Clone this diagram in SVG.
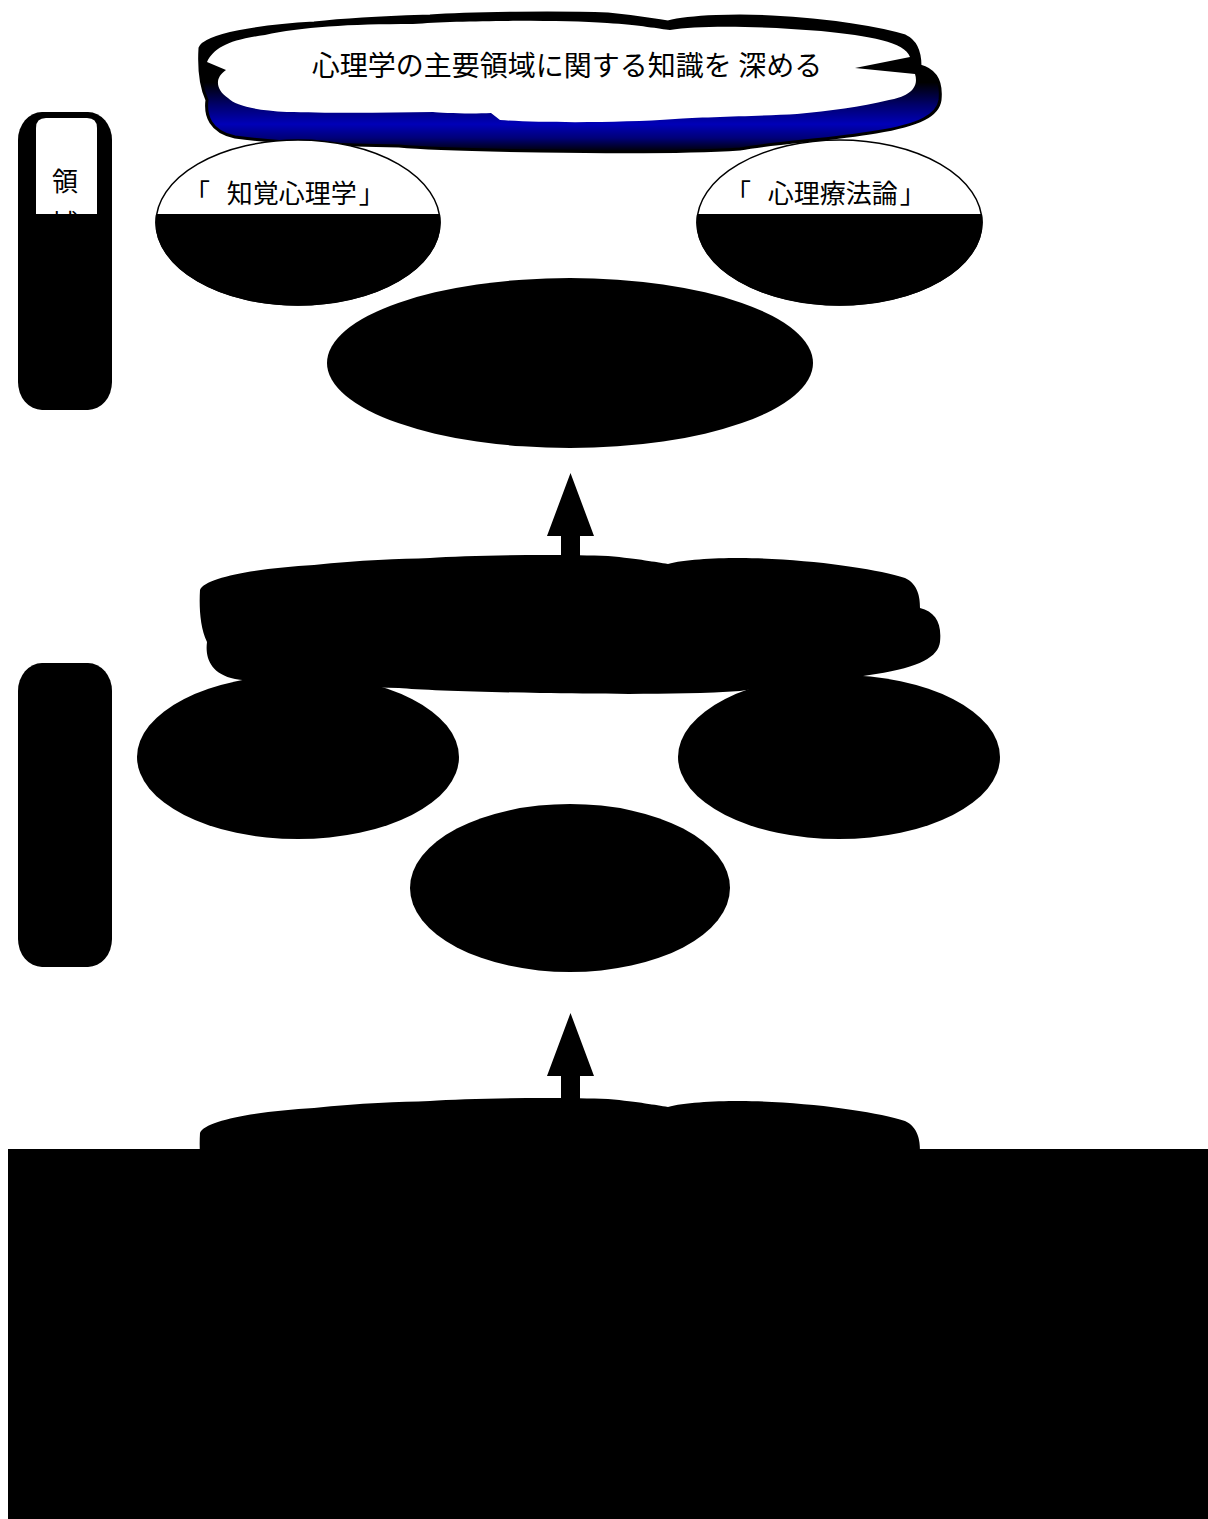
<svg xmlns="http://www.w3.org/2000/svg" width="1208" height="1519" viewBox="0 0 1208 1519">
<style>
.jp{font-family:"Noto Sans CJK JP","Noto Sans CJK SC",sans-serif;fill:#000}
.hdr{font-size:28px}
.lbl{font-size:26px}
.blk{fill:#000}
.oval{fill:#fff;stroke:#000;stroke-width:1.5}
</style>
<defs>
<path id="cloudOuter" d="M 200,48 C 205,35 260,26 314,23 C 360,18 400,17 430,16 C 470,13 560,12 608,14 C 640,17 655,20 668,22 C 690,16 740,15 772,17 C 830,20 880,28 905,36 C 918,42 920,55 920,66 C 935,70 942,80 940,100 C 938,115 920,125 876,132 C 830,140 780,142 740,149 C 680,153 600,152 540,151 C 480,150 420,148 399,146 C 330,145 270,142 235,137 C 210,132 205,115 207,100 C 200,85 199,65 200,48 Z"/>
<path id="cloudBody" d="M 207,62 C 214,48 228,40 265,35 C 300,27 350,24 413,24 C 460,20 560,20 607,23 C 640,25 660,29 670,30 C 700,25 760,26 821,31 C 870,36 905,42 910,57 L 855,68 L 915,74 C 920,90 905,97 889,100 C 860,107 830,111 797,114 C 760,116 700,117 675,119 C 620,123 540,123 500,120 L 491,113 C 470,114 440,113 433,112 C 380,113 320,113 287,112 C 255,110 236,106 228,98 C 216,90 214,78 226,70 Z"/>
<linearGradient id="shadowGrad" gradientUnits="userSpaceOnUse" x1="0" y1="13" x2="0" y2="152">
<stop offset="0" stop-color="#000"/>
<stop offset="0.5" stop-color="#000"/>
<stop offset="0.66" stop-color="#00006a"/>
<stop offset="0.8" stop-color="#0000b8"/>
<stop offset="0.9" stop-color="#000078"/>
<stop offset="1" stop-color="#000"/>
</linearGradient>
<clipPath id="upper"><rect x="0" y="0" width="1208" height="214"/></clipPath>
<clipPath id="lower"><rect x="0" y="214" width="1208" height="1305"/></clipPath>
</defs>
<rect width="1208" height="1519" fill="#fff"/>

<g id="goal-cloud">
<use href="#cloudOuter" fill="url(#shadowGrad)" stroke="#000" stroke-width="3"/>
<use href="#cloudBody" fill="#fff"/>
<text class="jp hdr" x="567" y="76" text-anchor="middle">心理学の主要領域に関する知識を 深める</text>
</g>

<g id="side-label-1">
<rect x="18" y="112" width="94" height="298" rx="24" ry="28" class="blk"/>
<path d="M 36,214 L 36,128 Q 36,118 46,118 L 87,118 Q 97,118 97,128 L 97,214 Z" fill="#fff"/>
<g clip-path="url(#upper)">
<text class="jp lbl" x="65" y="191" text-anchor="middle">領</text>
<text class="jp lbl" x="65" y="233" text-anchor="middle">域</text>
</g>
</g>

<g id="oval-perception">
<ellipse cx="298" cy="222.5" rx="142" ry="82.5" class="oval"/>
<ellipse cx="298" cy="222.5" rx="142.7" ry="83.2" class="blk" clip-path="url(#lower)"/>
<text class="jp lbl" x="184" y="203">「<tspan dx="11"> 知覚心理学</tspan><tspan dx="2">」</tspan></text>
</g>

<g id="oval-therapy">
<ellipse cx="839.5" cy="222.5" rx="142.5" ry="82.5" class="oval"/>
<ellipse cx="839.5" cy="222.5" rx="143.2" ry="83.2" class="blk" clip-path="url(#lower)"/>
<text class="jp lbl" x="725" y="203">「<tspan dx="11"> 心理療法論</tspan><tspan dx="2">」</tspan></text>
</g>

<g id="oval-center-1">
<ellipse cx="570" cy="363" rx="243" ry="85" class="blk"/>
</g>

<g id="cloud-2">
<use href="#cloudOuter" transform="translate(0,542)" class="blk"/>
</g>

<g id="side-label-2">
<rect x="18" y="663" width="94" height="304" rx="24" ry="28" class="blk"/>
</g>

<g id="oval-left-2">
<ellipse cx="298" cy="757" rx="161" ry="82" class="blk"/>
</g>

<g id="oval-right-2">
<ellipse cx="839" cy="757" rx="161" ry="82" class="blk"/>
</g>

<g id="oval-center-2">
<ellipse cx="570" cy="888" rx="160" ry="84" class="blk"/>
</g>

<g id="cloud-3">
<use href="#cloudOuter" transform="translate(0,1085)" class="blk"/>
</g>

<g id="bottom-block">
<rect x="8" y="1149" width="1200" height="370" class="blk"/>
</g>

<g id="connectors">
<polygon points="570.5,473 547,536 561,536 561,560 580,560 580,536 594,536" class="blk"/>
<polygon points="570.5,1013 547,1076 561,1076 561,1100 580,1100 580,1076 594,1076" class="blk"/>
</g>
</svg>
